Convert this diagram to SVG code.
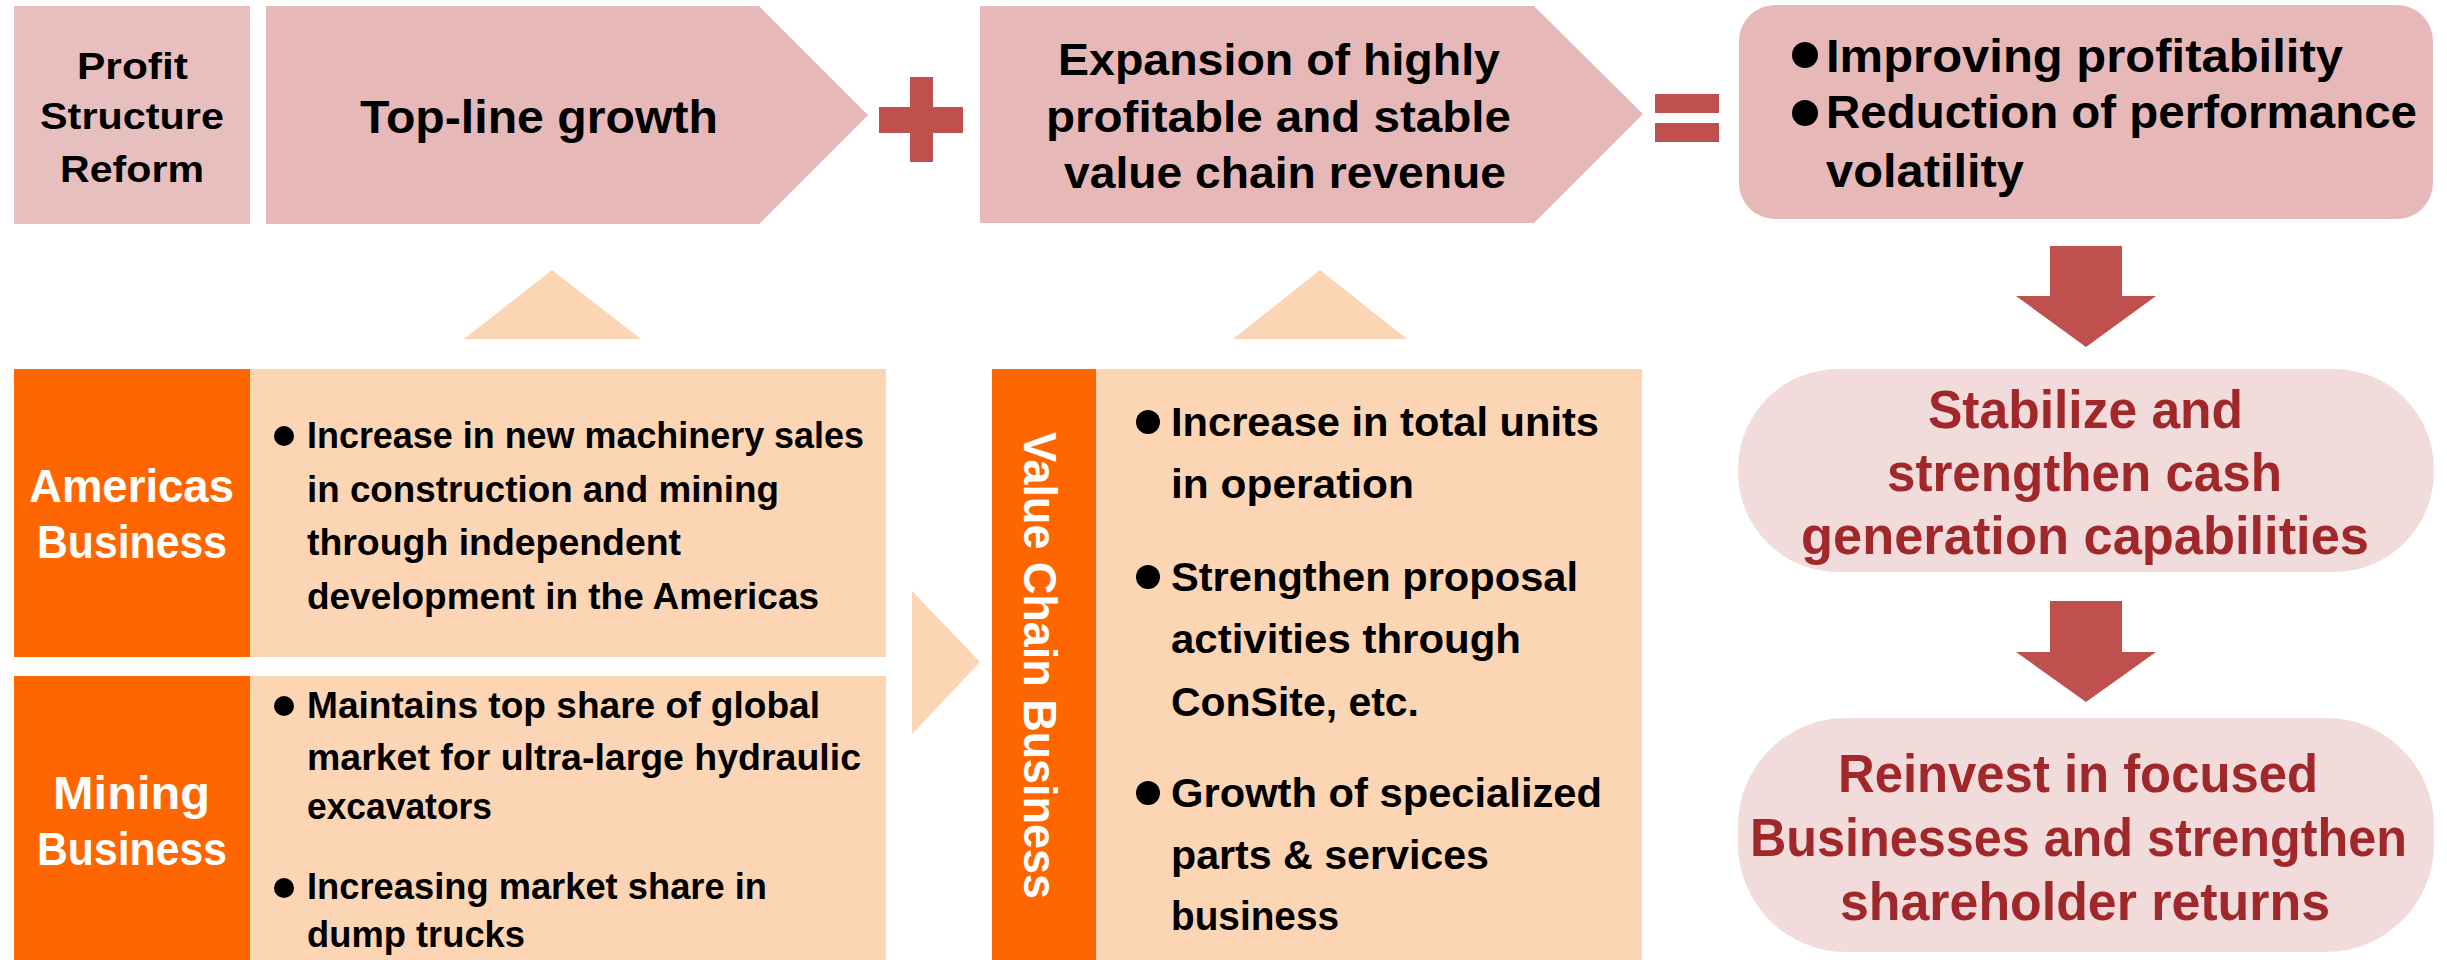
<svg xmlns="http://www.w3.org/2000/svg" width="2447" height="960" viewBox="0 0 2447 960">
  <style>
    text { font-family: "Liberation Sans", Arial, sans-serif; font-weight: bold; }
    .blk { fill: #000000; }
    .wht { fill: #ffffff; }
    .red { fill: #a0282b; }
    .pink { fill: #e6b9b8; }
    .pink2 { fill: #e8bfbf; }
    .pale { fill: #f2dcdb; }
    .peach { fill: #fcd5b5; }
    .orange { fill: #ff6600; }
    .mark { fill: #c0504d; }
    .dot { fill: #000000; }
    .t36 { font-size: 37px; }
    .t35 { font-size: 36px; }
    .t39 { font-size: 40px; }
    .t44 { font-size: 45px; }
    .t46 { font-size: 47px; }
    .t51 { font-size: 53px; }
  </style>

  <!-- Top row: equation of the profit structure reform -->
  <g id="profit-structure-reform">
    <rect class="pink2" x="14" y="6" width="236" height="218"/>
    <text class="blk t36" x="77" y="79" textLength="111" lengthAdjust="spacingAndGlyphs">Profit</text>
    <text class="blk t36" x="40" y="129" textLength="184" lengthAdjust="spacingAndGlyphs">Structure</text>
    <text class="blk t36" x="60" y="182" textLength="144" lengthAdjust="spacingAndGlyphs">Reform</text>
  </g>

  <g id="top-line-growth">
    <polygon class="pink" points="266,6 759,6 868,115 759,224 266,224"/>
    <text class="blk t46" x="360" y="133" textLength="358" lengthAdjust="spacingAndGlyphs">Top-line growth</text>
  </g>

  <g id="plus-sign">
    <rect class="mark" x="879" y="107" width="84" height="26"/>
    <rect class="mark" x="910" y="77" width="23" height="85"/>
  </g>

  <g id="value-chain-revenue">
    <polygon class="pink" points="980,6 1534,6 1643,114 1534,223 980,223"/>
    <text class="blk t44" x="1058" y="75" textLength="442" lengthAdjust="spacingAndGlyphs">Expansion of highly</text>
    <text class="blk t44" x="1046" y="132" textLength="465" lengthAdjust="spacingAndGlyphs">profitable and stable</text>
    <text class="blk t44" x="1064" y="188" textLength="442" lengthAdjust="spacingAndGlyphs">value chain revenue</text>
  </g>

  <g id="equals-sign">
    <rect class="mark" x="1655" y="94" width="64" height="19"/>
    <rect class="mark" x="1655" y="123" width="64" height="19"/>
  </g>

  <g id="result">
    <rect class="pink" x="1739" y="5" width="694" height="214" rx="36" ry="36"/>
    <circle class="dot" cx="1805" cy="55" r="13"/>
    <text class="blk t46" x="1826" y="72" textLength="517" lengthAdjust="spacingAndGlyphs">Improving profitability</text>
    <circle class="dot" cx="1805" cy="113" r="13"/>
    <text class="blk t46" x="1826" y="128" textLength="591" lengthAdjust="spacingAndGlyphs">Reduction of performance</text>
    <text class="blk t46" x="1826" y="187" textLength="198" lengthAdjust="spacingAndGlyphs">volatility</text>
  </g>

  <!-- Right column: cash flow outcomes -->
  <g id="cash-generation">
    <rect class="pale" x="1738" y="369" width="696" height="203" rx="100" ry="100"/>
    <text class="red t51" x="1928" y="428" textLength="315" lengthAdjust="spacingAndGlyphs">Stabilize and</text>
    <text class="red t51" x="1887" y="491" textLength="395" lengthAdjust="spacingAndGlyphs">strengthen cash</text>
    <text class="red t51" x="1801" y="554" textLength="568" lengthAdjust="spacingAndGlyphs">generation capabilities</text>
  </g>

  <g id="reinvest">
    <rect class="pale" x="1738" y="718" width="696" height="234" rx="108" ry="108"/>
    <text class="red t51" x="1838" y="792" textLength="480" lengthAdjust="spacingAndGlyphs">Reinvest in focused</text>
    <text class="red t51" x="1750" y="856" textLength="657" lengthAdjust="spacingAndGlyphs">Businesses and strengthen</text>
    <text class="red t51" x="1840" y="920" textLength="490" lengthAdjust="spacingAndGlyphs">shareholder returns</text>
  </g>

  <!-- Bottom-left: business segments -->
  <g id="americas-business">
    <rect class="orange" x="14" y="369" width="236" height="288"/>
    <rect class="peach" x="250" y="369" width="636" height="288"/>
    <text class="wht t46" x="29" y="502" textLength="205" lengthAdjust="spacingAndGlyphs">Americas</text>
    <text class="wht t46" x="37" y="558" textLength="190" lengthAdjust="spacingAndGlyphs">Business</text>
    <circle class="dot" cx="284" cy="436" r="10"/>
    <text class="blk t35" x="307" y="448" textLength="557" lengthAdjust="spacingAndGlyphs">Increase in new machinery sales</text>
    <text class="blk t35" x="307" y="502" textLength="472" lengthAdjust="spacingAndGlyphs">in construction and mining</text>
    <text class="blk t35" x="307" y="555" textLength="374" lengthAdjust="spacingAndGlyphs">through independent</text>
    <text class="blk t35" x="307" y="609" textLength="512" lengthAdjust="spacingAndGlyphs">development in the Americas</text>
  </g>

  <g id="mining-business">
    <rect class="orange" x="14" y="676" width="236" height="284"/>
    <rect class="peach" x="250" y="676" width="636" height="284"/>
    <text class="wht t46" x="53" y="809" textLength="157" lengthAdjust="spacingAndGlyphs">Mining</text>
    <text class="wht t46" x="37" y="865" textLength="190" lengthAdjust="spacingAndGlyphs">Business</text>
    <circle class="dot" cx="284" cy="706" r="10"/>
    <text class="blk t35" x="307" y="718" textLength="513" lengthAdjust="spacingAndGlyphs">Maintains top share of global</text>
    <text class="blk t35" x="307" y="770" textLength="554" lengthAdjust="spacingAndGlyphs">market for ultra-large hydraulic</text>
    <text class="blk t35" x="307" y="819" textLength="185" lengthAdjust="spacingAndGlyphs">excavators</text>
    <circle class="dot" cx="284" cy="888" r="10"/>
    <text class="blk t35" x="307" y="899" textLength="460" lengthAdjust="spacingAndGlyphs">Increasing market share in</text>
    <text class="blk t35" x="307" y="947" textLength="218" lengthAdjust="spacingAndGlyphs">dump trucks</text>
  </g>

  <g id="value-chain-business">
    <rect class="orange" x="992" y="369" width="104" height="591"/>
    <rect class="peach" x="1096" y="369" width="546" height="591"/>
    <text class="wht t46" transform="translate(1024,432) rotate(90)" x="0" y="0" textLength="467" lengthAdjust="spacingAndGlyphs">Value Chain Business</text>
    <circle class="dot" cx="1148" cy="422" r="12"/>
    <text class="blk t39" x="1171" y="436" textLength="428" lengthAdjust="spacingAndGlyphs">Increase in total units</text>
    <text class="blk t39" x="1171" y="498" textLength="243" lengthAdjust="spacingAndGlyphs">in operation</text>
    <circle class="dot" cx="1148" cy="577" r="12"/>
    <text class="blk t39" x="1171" y="591" textLength="407" lengthAdjust="spacingAndGlyphs">Strengthen proposal</text>
    <text class="blk t39" x="1171" y="653" textLength="350" lengthAdjust="spacingAndGlyphs">activities through</text>
    <text class="blk t39" x="1171" y="716" textLength="248" lengthAdjust="spacingAndGlyphs">ConSite, etc.</text>
    <circle class="dot" cx="1148" cy="793" r="12"/>
    <text class="blk t39" x="1171" y="807" textLength="431" lengthAdjust="spacingAndGlyphs">Growth of specialized</text>
    <text class="blk t39" x="1171" y="869" textLength="318" lengthAdjust="spacingAndGlyphs">parts &amp; services</text>
    <text class="blk t39" x="1171" y="930" textLength="168" lengthAdjust="spacingAndGlyphs">business</text>
  </g>

  <!-- Connectors: contribution triangles and flow arrows -->
  <g id="connectors">
    <polygon class="peach" points="464,339 552,270 641,339"/>
    <polygon class="peach" points="1233,339 1320,270 1407,339"/>
    <polygon class="peach" points="912,591 980,662 912,734"/>
    <polygon class="mark" points="2050,246 2122,246 2122,296 2156,296 2086,347 2016,296 2050,296"/>
    <polygon class="mark" points="2050,601 2122,601 2122,652 2156,652 2086,702 2016,652 2050,652"/>
  </g>
</svg>
